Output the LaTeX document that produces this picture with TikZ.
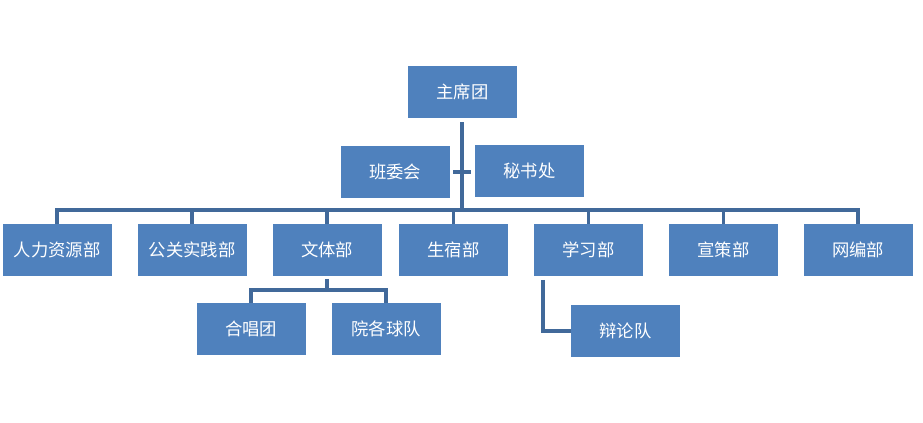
\documentclass[tikz,border=0pt]{standalone}
\usepackage{fontspec}
\usepackage{tikz}
\usetikzlibrary{positioning, calc}
\setmainfont{Noto Sans CJK SC}
\definecolor{boxblue}{RGB}{79, 129, 189}
\definecolor{lineblue}{RGB}{65, 105, 154}

\begin{document}
\begin{tikzpicture}[
    x=0.75pt, y=-0.75pt,
    box/.style={rectangle, fill=boxblue, text=white, inner sep=0pt,
                minimum width=81.75pt, minimum height=39pt,
                font=\fontsize{13}{15}\selectfont},
    link/.style={draw=lineblue, line width=2.3pt}
]
\useasboundingbox (0,0) rectangle (923,423);

% Top
\node[box] (top) at (462.5,92) {主席团};
\node[box] (banwei) at (395,172) {班委会};
\node[box] (mishu) at (529.5,171) {秘书处};

% Departments
\node[box] (renli) at (57,250) {人力资源部};
\node[box] (gongguan) at (192,250) {公关实践部};
\node[box] (wenti) at (327,250) {文体部};
\node[box] (shengsu) at (453.5,250) {生宿部};
\node[box] (xuexi) at (588.5,250) {学习部};
\node[box] (xuance) at (723.5,250) {宣策部};
\node[box] (wangbian) at (858,250) {网编部};

% Sub groups
\node[box] (hechang) at (251,329) {合唱团};
\node[box] (qiudui) at (386,329) {院各球队};
\node[box] (bianlun) at (625.5,331) {辩论队};

% Links
\coordinate (hub) at (462,210);
\draw[link, shorten <=3pt] (top.south -| hub) -- (hub);
\draw[link, shorten <=2.5pt, shorten >=2.5pt] (banwei.east) -- (mishu.west |- banwei.east);
\foreach \d in {renli, gongguan, wenti, shengsu, xuexi, xuance, wangbian}
  \draw[link] (hub) -| (\d.north);

\coordinate (wentihub) at (327,290);
\draw[link, shorten <=2pt] (wenti.south) -- (wentihub);
\draw[link] (wentihub) -| (hechang.north);
\draw[link] (wentihub) -| (qiudui.north);

\coordinate (xuexihub) at (543,280);
\draw[link] (xuexihub) |- (bianlun.west);

\end{tikzpicture}
\end{document}
